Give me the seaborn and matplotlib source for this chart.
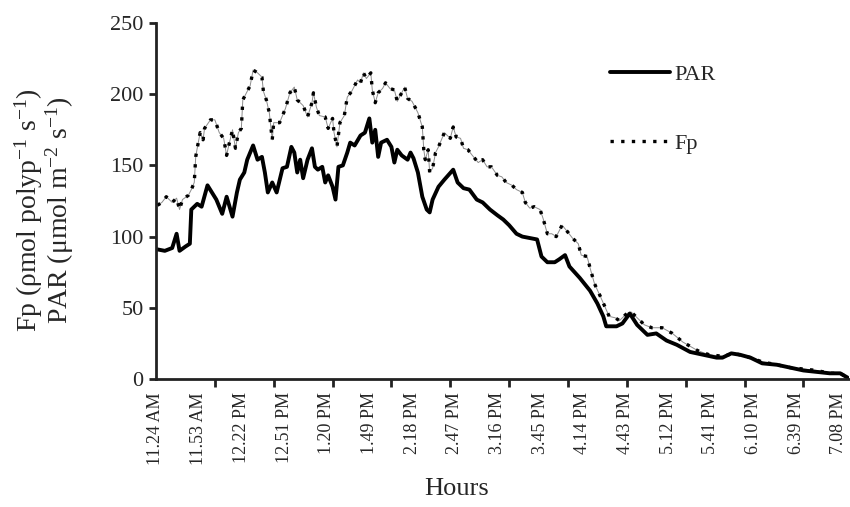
import pandas as pd
import seaborn as sns
import matplotlib.pyplot as plt
from matplotlib.lines import Line2D

# minutes after 11.24 AM
par_min = [1, 6, 11, 14, 16, 20, 23, 24, 28, 31, 35, 38, 41, 45, 48, 52, 55, 57, 60, 62,
           66, 69, 72, 74, 76, 79, 82, 86, 89, 92, 94, 96, 98, 100, 103, 106, 108, 110, 113, 115,
           117, 120, 122, 124, 127, 130, 132, 135, 139, 142, 145, 147, 149, 151, 153, 157, 160, 162, 164, 167,
           171, 173, 175, 178, 181, 184, 186, 188, 192, 196, 202, 205, 209, 213, 218, 222, 227, 232, 236, 240,
           245, 249, 254, 259, 262, 266, 271, 274, 278, 281, 288, 295, 300, 304, 306, 313, 317, 322, 327, 334,
           340, 347, 354, 363, 372, 381, 385, 391, 397, 404, 412, 422, 431, 440, 449, 458, 465, 470]
par_val = [91, 90, 92, 102, 90, 93, 95, 119, 123, 121, 136, 131, 126, 116, 128, 114, 131, 140, 145, 154,
           164, 154, 156, 145, 131, 138, 131, 148, 149, 163, 159, 145, 154, 141, 154, 162, 149, 147, 149, 138,
           143, 135, 126, 149, 150, 159, 166, 164, 171, 173, 183, 166, 175, 156, 166, 168, 163, 152, 161, 157,
           154, 159, 155, 145, 128, 119, 117, 126, 135, 140, 147, 138, 134, 133, 126, 124, 119, 115, 112, 108,
           102, 100, 99, 98, 86, 82, 82, 84, 87, 79, 71, 62, 53, 44, 37, 37, 39, 46, 38, 31,
           32, 27, 24, 19, 17, 15, 15, 18, 17, 15, 11, 10, 8, 6, 5, 4, 4, 1]

fp_min = [1, 4, 7, 11, 14, 16, 18, 22, 24, 26, 27, 28, 30, 32, 33, 37, 40, 43, 46, 48,
          49, 52, 54, 56, 58, 59, 62, 64, 66, 69, 72, 73, 75, 77, 79, 80, 84, 88, 91, 94,
          96, 100, 103, 106, 107, 109, 111, 115, 117, 120, 121, 123, 125, 128, 130, 133, 137, 139, 141, 143,
          146, 147, 149, 151, 154, 156, 159, 162, 164, 167, 169, 171, 174, 178, 181, 182, 183, 185, 186, 188,
          190, 192, 194, 196, 200, 202, 204, 207, 209, 212, 215, 219, 222, 225, 228, 232, 235, 238, 242, 245,
          249, 251, 254, 257, 261, 263, 266, 269, 272, 276, 280, 283, 287, 289, 293, 295, 298, 302, 305, 308,
          312, 315, 320, 323, 327, 332, 337, 344, 351, 358, 368, 376, 385, 393, 404, 412, 422, 431, 440, 449,
          458, 465, 470]
fp_val = [122, 124, 128, 124, 127, 119, 126, 129, 133, 138, 156, 162, 173, 168, 176, 182, 182, 173, 169, 157,
          162, 175, 162, 173, 176, 196, 202, 206, 217, 215, 212, 202, 196, 187, 168, 180, 180, 190, 201, 205,
          196, 192, 184, 194, 201, 191, 185, 184, 176, 183, 173, 163, 180, 185, 198, 202, 210, 208, 215, 211,
          215, 203, 194, 201, 204, 208, 204, 203, 195, 201, 205, 197, 195, 187, 177, 161, 154, 161, 145, 148,
          159, 163, 168, 173, 169, 177, 170, 169, 162, 161, 157, 152, 154, 149, 149, 143, 142, 138, 136, 133,
          131, 124, 120, 121, 119, 113, 102, 102, 100, 108, 103, 99, 95, 87, 86, 78, 67, 58, 51, 44,
          43, 41, 46, 47, 43, 38, 36, 36, 32, 26, 20, 17, 16, 18, 15, 12, 10, 8, 7, 6,
          4, 4, 1]

tick_labels = ["11.24 AM", "11.53 AM", "12.22 PM", "12.51 PM", "1.20 PM", "1.49 PM", "2.18 PM",
               "2.47 PM", "3.16 PM", "3.45 PM", "4.14 PM", "4.43 PM", "5.12 PM", "5.41 PM",
               "6.10 PM", "6.39 PM", "7.08 PM"]
label_step = 29
mark_step = 40

sns.set_style("ticks")
plt.rcParams["font.family"] = ["Liberation Serif", "DejaVu Serif"]
plt.rcParams["mathtext.fontset"] = "custom"
plt.rcParams["mathtext.rm"] = "Liberation Serif"
plt.rcParams["mathtext.it"] = "Liberation Serif:italic"

fig = plt.figure(figsize=(8.5, 5.07), dpi=100)
ax = fig.add_axes([156 / 850, 1 - 379 / 507, 693 / 850, 356 / 507])

par = pd.DataFrame({"t": par_min, "v": par_val})
fp = pd.DataFrame({"t": fp_min, "v": fp_val})

dots = (0, (1, 2.2))
sns.lineplot(data=fp, x="t", y="v", ax=ax, color="#8c8c8c", lw=0.7)
sns.lineplot(data=fp, x="t", y="v", ax=ax, color="black", lw=2.4, linestyle=dots)
sns.lineplot(data=par, x="t", y="v", ax=ax, color="black", lw=2.8)

ax.set_xlim(0, 471)
ax.set_ylim(0, 250)
ax.set_yticks(range(0, 251, 50))
ax.set_xticks([i * label_step for i in range(len(tick_labels))])
ax.set_xticklabels(tick_labels, rotation=90, fontsize=13)
ax.set_xticks(range(0, 472, mark_step), minor=True)
ax.tick_params(axis="x", which="major", length=0, pad=9.5)
ax.tick_params(axis="x", which="minor", length=6, width=2, color="#222222")
ax.tick_params(axis="y", labelsize=16, length=5, width=2, color="#222222", pad=4)
ax.set_xlabel("")
ax.set_ylabel("")
sns.despine(ax=ax)
for side in ["left", "bottom"]:
    ax.spines[side].set_linewidth(2)
    ax.spines[side].set_color("#222222")

handles = [Line2D([], [], color="black", lw=2.8),
           Line2D([], [], color="black", lw=2.4, linestyle=dots)]
fig.legend(handles, ["PAR", "Fp"], loc="upper left", bbox_to_anchor=(610 / 850, 1 - 64 / 507),
           frameon=False, fontsize=16, handlelength=2.7, handletextpad=0.2,
           labelspacing=2.2, borderpad=0, borderaxespad=0)

fig.text(44 / 850, 1 - 210 / 507,
         "Fp (ρmol polyp$^{-1}$ s$^{-1}$)\nPAR (μmol m$^{-2}$ s$^{-1}$)",
         rotation=90, ha="center", va="center", fontsize=20, linespacing=0.95,
         multialignment="center")
fig.text(457 / 850, 1 - 489 / 507, "Hours", ha="center", va="center", fontsize=19)

fig.savefig("out.png", dpi=100)
